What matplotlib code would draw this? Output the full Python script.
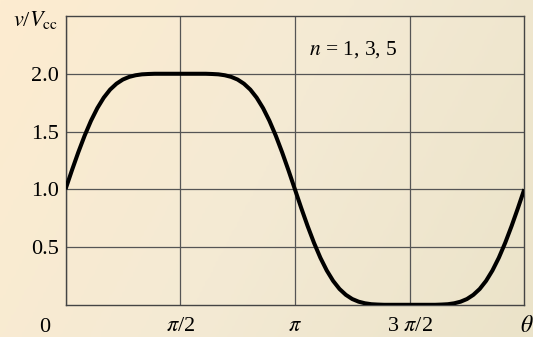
# flat-top waveform, odd harmonics n = 1, 3, 5
import numpy as np
import matplotlib.pyplot as plt
from matplotlib.colors import LinearSegmentedColormap

plt.rcParams['font.family'] = ['Liberation Serif', 'DejaVu Serif']
plt.rcParams['mathtext.fontset'] = 'stix'

# angle in degrees, 5 deg steps, 0..360
theta_deg = list(range(0, 361, 5))
# v/Vcc
v_ratio = [
    1.000, 1.163, 1.319, 1.464, 1.593, 1.703, 1.793, 1.863, 1.914, 1.950,   # 0-45
    1.973, 1.987, 1.995, 1.998, 2.000, 2.000, 2.000, 2.000, 2.000,          # 50-90
    2.000, 2.000, 2.000, 2.000, 1.998, 1.995, 1.987, 1.973, 1.950, 1.914,   # 95-140
    1.863, 1.793, 1.703, 1.593, 1.464, 1.319, 1.163, 1.000,                 # 145-180
    0.837, 0.681, 0.536, 0.407, 0.297, 0.207, 0.137, 0.086, 0.050,          # 185-225
    0.027, 0.013, 0.005, 0.002, 0.000, 0.000, 0.000, 0.000, 0.000,          # 230-270
    0.000, 0.000, 0.000, 0.000, 0.002, 0.005, 0.013, 0.027, 0.050,          # 275-315
    0.086, 0.137, 0.207, 0.297, 0.407, 0.536, 0.681, 0.837, 1.000,          # 320-360
]
x_ticks = [0, np.pi / 2, np.pi, 3 * np.pi / 2]
x_labels = ['', r'$\pi$/2', r'$\pi$', r'3 $\pi$/2']
y_ticks = [0.5, 1.0, 1.5, 2.0]
y_labels = ['0.5', '1.0', '1.5', '2.0']

fig = plt.figure(figsize=(5.33, 3.37), dpi=100)

# background gradient
bg = fig.add_axes([0, 0, 1, 1])
cmap = LinearSegmentedColormap.from_list('bg', ['#fdecd0', '#f4ead4', '#ebe3c9'])
gx, gy = np.meshgrid(np.linspace(0, 1, 200), np.linspace(0, 1, 120))
bg.imshow(0.75 * gx + 0.25 * gy, cmap=cmap, aspect='auto', extent=[0, 1, 0, 1], origin='upper')
bg.axis('off')

ax = fig.add_axes([65.5 / 533, 1 - 304.8 / 337, 458.8 / 533, 288.8 / 337])
ax.patch.set_alpha(0)

theta = np.deg2rad(theta_deg)
ax.plot(theta, v_ratio, color='black', lw=2.9, solid_joinstyle='round',
        solid_capstyle='butt', zorder=3)

ax.set_xlim(0, 2 * np.pi)
ax.set_ylim(0, 2.5)
ax.set_xticks(x_ticks)
ax.set_xticklabels(x_labels)
ax.set_yticks(y_ticks)
ax.set_yticklabels(y_labels)
ax.tick_params(length=0, labelsize=16, colors='black')
ax.tick_params(axis='y', pad=5)
ax.tick_params(axis='x', pad=9)
ax.grid(True, color='#555555', lw=0.9)
for s in ax.spines.values():
    s.set_color('#444444')
    s.set_linewidth(1.0)

# origin label and axis names
fig.text(45 / 533, 1 - 327 / 337, '0', fontsize=16, ha='center', va='center')
fig.text(527 / 533, 1 - 327 / 337, r'$\theta$', fontsize=17, ha='center', va='center')
fig.text(35 / 533, 1 - 20 / 337, r'$v$/$V_{\mathrm{cc}}$', fontsize=16, ha='center', va='center')
ax.text(353 / 533, 1 - 50 / 337, r'$n$ = 1, 3, 5', fontsize=15.5, ha='center', va='center',
        transform=fig.transFigure)

fig.savefig('out.png', dpi=100)
